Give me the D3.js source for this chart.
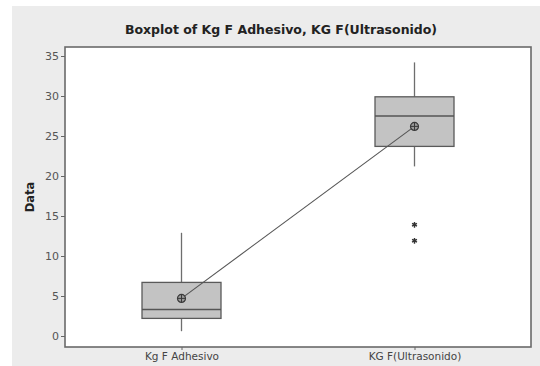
<!DOCTYPE html>
<html>
<head>
<meta charset="utf-8">
<script src="https://cdn.jsdelivr.net/npm/d3@7"></script>
<style>
  html, body { margin: 0; padding: 0; background: #ffffff; }
  svg { display: block; }
  text { font-family: "DejaVu Sans", "Liberation Sans", sans-serif; }
</style>
</head>
<body>
<svg id="chart" width="540" height="366"></svg>
<script>
// Five-number summaries, means and outliers for each variable
const categories = ["Kg F Adhesivo", "KG F(Ultrasonido)"];
const whiskerLow  = [0.6, 21.2];
const q1          = [2.2, 23.7];
const median      = [3.3, 27.5];
const q3          = [6.7, 29.9];
const whiskerHigh = [12.9, 34.2];
const means       = [4.7, 26.2];
const outliers    = [[], [13.9, 11.9]];
const yTicks      = [0, 5, 10, 15, 20, 25, 30, 35];

const svg = d3.select("#chart");
const W = 540, H = 366;
const plot = { left: 65, right: 531, top: 47, bottom: 347 };

// Light gray page panel
svg.append("rect").attr("x", 12).attr("y", 6).attr("width", W - 12).attr("height", H - 6)
  .attr("fill", "#ececec");
// White data region
svg.append("rect").attr("x", plot.left).attr("y", plot.top)
  .attr("width", plot.right - plot.left).attr("height", plot.bottom - plot.top)
  .attr("fill", "#ffffff");

const x = d3.scalePoint().domain(categories).range([plot.left, plot.right]).padding(0.5);
const y = d3.scaleLinear().domain([0, 35]).range([336, 56]);
const boxW = 79;

const rows = categories.map((c, i) => ({
  c, lo: whiskerLow[i], q1: q1[i], med: median[i], q3: q3[i], hi: whiskerHigh[i],
  mean: means[i], out: outliers[i]
}));

const g = svg.append("g");
const grp = g.selectAll("g.box").data(rows).join("g").attr("class", "box");

// Whiskers
grp.append("line").attr("x1", d => x(d.c)).attr("x2", d => x(d.c))
  .attr("y1", d => y(d.q3)).attr("y2", d => y(d.hi))
  .attr("stroke", "#6e6e6e").attr("stroke-width", 1.3);
grp.append("line").attr("x1", d => x(d.c)).attr("x2", d => x(d.c))
  .attr("y1", d => y(d.q1)).attr("y2", d => y(d.lo))
  .attr("stroke", "#6e6e6e").attr("stroke-width", 1.3);

// Interquartile boxes
grp.append("rect").attr("x", d => x(d.c) - boxW / 2).attr("width", boxW)
  .attr("y", d => y(d.q3)).attr("height", d => y(d.q1) - y(d.q3))
  .attr("fill", "#c3c3c3").attr("stroke", "#5a5a5a").attr("stroke-width", 1.3);

// Medians
grp.append("line").attr("x1", d => x(d.c) - boxW / 2).attr("x2", d => x(d.c) + boxW / 2)
  .attr("y1", d => y(d.med)).attr("y2", d => y(d.med))
  .attr("stroke", "#555555").attr("stroke-width", 1.5);

// Line connecting the means
g.append("path")
  .attr("d", d3.line().x(d => x(d.c)).y(d => y(d.mean))(rows))
  .attr("fill", "none").attr("stroke", "#555555").attr("stroke-width", 1.1);

// Mean symbols: circle with a cross
const m = g.selectAll("g.mean").data(rows).join("g").attr("class", "mean")
  .attr("transform", d => `translate(${x(d.c)},${y(d.mean)})`);
m.append("circle").attr("r", 4).attr("fill", "#9a9a9a").attr("stroke", "#3a3a3a").attr("stroke-width", 1.2);
m.append("path").attr("d", "M-4,0H4M0,-4V4").attr("stroke", "#3a3a3a").attr("stroke-width", 1);

// Outliers as asterisks
const outPts = rows.flatMap(d => d.out.map(v => ({ c: d.c, v })));
g.selectAll("path.out").data(outPts).join("path").attr("class", "out")
  .attr("transform", d => `translate(${x(d.c)},${y(d.v)})`)
  .attr("d", d3.symbol(d3.symbolAsterisk, 22)())
  .attr("fill", "none").attr("stroke", "#333333").attr("stroke-width", 1.4);

// Frame
svg.append("rect").attr("x", plot.left).attr("y", plot.top)
  .attr("width", plot.right - plot.left).attr("height", plot.bottom - plot.top)
  .attr("fill", "none").attr("stroke", "#6a6a6a").attr("stroke-width", 1.6);

// Y axis
const yAxis = svg.append("g").attr("transform", `translate(${plot.left},0)`)
  .call(d3.axisLeft(y).tickValues(yTicks).tickSize(4).tickPadding(2));
yAxis.select(".domain").remove();
yAxis.selectAll("line").attr("stroke", "#666666");
yAxis.selectAll("text").attr("fill", "#555555").attr("font-size", 11)
  .style("font-family", "'DejaVu Sans', sans-serif");

// X axis
const xAxis = svg.append("g").attr("transform", `translate(0,${plot.bottom})`)
  .call(d3.axisBottom(x).tickSize(3).tickPadding(3));
xAxis.select(".domain").remove();
xAxis.selectAll("line").attr("stroke", "#666666");
xAxis.selectAll("text").attr("fill", "#444444").attr("font-size", 10.5)
  .style("font-family", "'DejaVu Sans', sans-serif");

// Title
svg.append("text").attr("x", 281).attr("y", 34).attr("text-anchor", "middle")
  .attr("font-size", 12.5).attr("font-weight", "bold").attr("fill", "#222222")
  .text("Boxplot of Kg F Adhesivo, KG F(Ultrasonido)");

// Y axis label
svg.append("text").attr("transform", "translate(34,197) rotate(-90)")
  .attr("text-anchor", "middle").attr("font-size", 11.5).attr("font-weight", "bold")
  .attr("fill", "#222222").text("Data");
</script>
</body>
</html>
